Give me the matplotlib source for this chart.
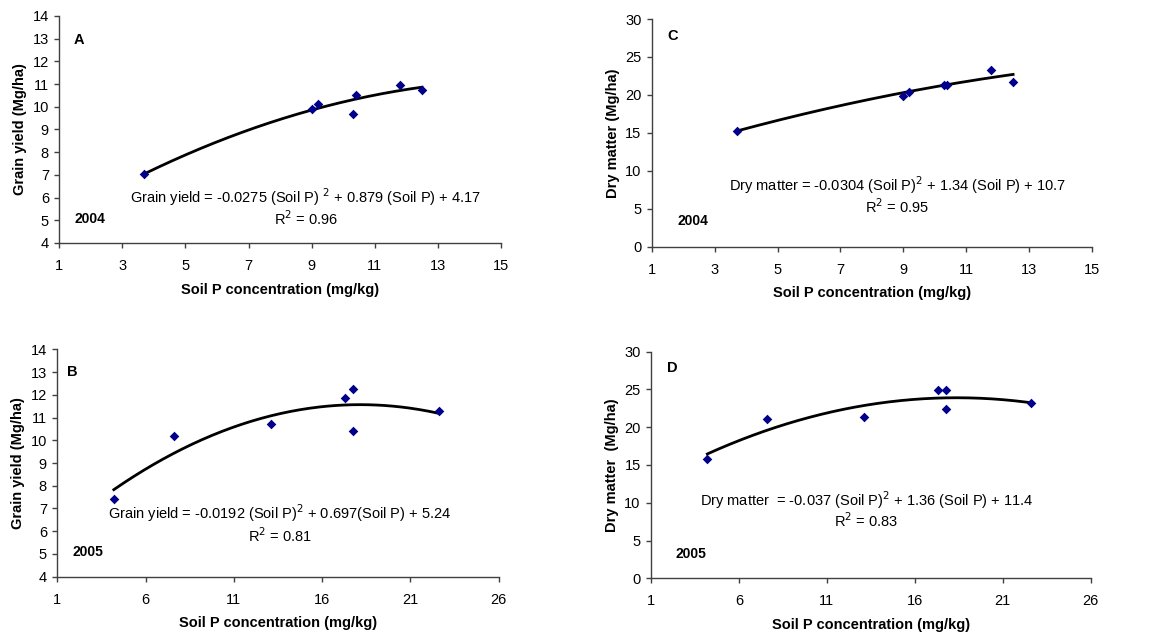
import numpy as np
import matplotlib
matplotlib.use("Agg")
import matplotlib.pyplot as plt

plt.rcParams['font.family'] = ['Liberation Sans', 'DejaVu Sans']

# ---- data ----
# Panel A: grain yield 2004
a_soilp = [3.7, 9.0, 9.2, 10.3, 10.4, 11.8, 12.5]
a_yield = [7.05, 9.9, 10.1, 9.7, 10.5, 10.95, 10.75]
a_coef = [-0.0275, 0.879, 4.17]

# Panel C: dry matter 2004
c_soilp = [3.7, 9.0, 9.2, 10.3, 10.4, 11.8, 12.5]
c_dm = [15.3, 19.8, 20.4, 21.3, 21.3, 23.3, 21.75]
c_coef = [-0.0304, 1.34, 10.7]

# Panel B: grain yield 2005
b_soilp = [4.2, 7.6, 13.1, 17.3, 17.75, 17.75, 22.6]
b_yield = [7.4, 10.2, 10.7, 11.85, 12.25, 10.4, 11.3]
b_coef = [-0.0192, 0.697, 5.24]

# Panel D: dry matter 2005
d_soilp = [4.2, 7.6, 13.1, 17.3, 17.75, 17.75, 22.6]
d_dm = [15.75, 21.15, 21.4, 24.9, 24.9, 22.35, 23.2]
d_coef = [-0.037, 1.36, 11.4]

x_ticks_2004 = [1, 3, 5, 7, 9, 11, 13, 15]
x_ticks_2005 = [1, 6, 11, 16, 21, 26]
y_ticks_grain = list(range(4, 15))
y_ticks_dm = [0, 5, 10, 15, 20, 25, 30]

panels = [
    dict(pos=[0.051, 0.618, 0.3797, 0.357], x=a_soilp, y=a_yield, coef=a_coef,
         xt=x_ticks_2004, yt=y_ticks_grain, ylabel='Grain yield (Mg/ha)', letter='A', year='2004',
         eq='Grain yield = -0.0275 (Soil P) $^{2}$ + 0.879 (Soil P) + 4.17', r2='R$^{2}$ = 0.96',
         letter_xy=(0.033, 0.893), year_xy=(0.035, 0.104), eq_xy=(0.558, 0.200), r2_xy=(0.558, 0.107)),
    dict(pos=[0.5606, 0.6121, 0.378, 0.358], x=c_soilp, y=c_dm, coef=c_coef,
         xt=x_ticks_2004, yt=y_ticks_dm, ylabel='Dry matter (Mg/ha)', letter='C', year='2004',
         eq='Dry matter = -0.0304 (Soil P)$^{2}$ + 1.34 (Soil P) + 10.7', r2='R$^{2}$ = 0.95',
         letter_xy=(0.036, 0.925), year_xy=(0.058, 0.113), eq_xy=(0.558, 0.271), r2_xy=(0.558, 0.176)),
    dict(pos=[0.0493, 0.0932, 0.3795, 0.3576], x=b_soilp, y=b_yield, coef=b_coef,
         xt=x_ticks_2005, yt=y_ticks_grain, ylabel='Grain yield (Mg/ha)', letter='B', year='2005',
         eq='Grain yield = -0.0192 (Soil P)$^{2}$ + 0.697(Soil P) + 5.24', r2='R$^{2}$ = 0.81',
         letter_xy=(0.023, 0.902), year_xy=(0.035, 0.110), eq_xy=(0.504, 0.279), r2_xy=(0.504, 0.179)),
    dict(pos=[0.5598, 0.0907, 0.378, 0.3564], x=d_soilp, y=d_dm, coef=d_coef,
         xt=x_ticks_2005, yt=y_ticks_dm, ylabel='Dry matter  (Mg/ha)', letter='D', year='2005',
         eq='Dry matter  = -0.037 (Soil P)$^{2}$ + 1.36 (Soil P) + 11.4', r2='R$^{2}$ = 0.83',
         letter_xy=(0.037, 0.926), year_xy=(0.056, 0.106), eq_xy=(0.490, 0.346), r2_xy=(0.490, 0.254)),
]

fig = plt.figure(figsize=(11.63, 6.36), dpi=100)
fig.patch.set_facecolor('white')

for p in panels:
    ax = fig.add_axes(p['pos'])
    xs = np.array(p['x'])
    xf = np.linspace(xs.min(), xs.max(), 200)
    yf = np.polyval(p['coef'], xf)
    ax.plot(xf, yf, color='black', lw=2.0, zorder=2)
    ax.scatter(p['x'], p['y'], marker='D', s=24, color='#00008B', zorder=3, linewidths=0)
    ax.set_xlim(p['xt'][0], p['xt'][-1])
    ax.set_ylim(p['yt'][0], p['yt'][-1])
    ax.set_xticks(p['xt'])
    ax.set_yticks(p['yt'])
    for s in ['top', 'right']:
        ax.spines[s].set_visible(False)
    for s in ['left', 'bottom']:
        ax.spines[s].set_color('#404040')
        ax.spines[s].set_linewidth(1.0)
    ax.tick_params(axis='both', direction='out', length=3.5, width=1.0, color='#404040',
                   labelsize=10.5, pad=4)
    ax.tick_params(axis='x', pad=8)
    ax.set_xlabel('Soil P concentration (mg/kg)', fontsize=10.5, fontweight='bold', labelpad=7)
    ax.set_ylabel(p['ylabel'], fontsize=10.5, fontweight='bold', labelpad=4)
    ax.text(*p['letter_xy'], p['letter'], transform=ax.transAxes, fontsize=10.5, fontweight='bold',
            ha='left', va='center')
    ax.text(*p['year_xy'], p['year'], transform=ax.transAxes, fontsize=10, fontweight='bold',
            ha='left', va='center')
    ax.text(*p['eq_xy'], p['eq'], transform=ax.transAxes, fontsize=10.5, ha='center', va='center')
    ax.text(*p['r2_xy'], p['r2'], transform=ax.transAxes, fontsize=10.5, ha='center', va='center')

fig.savefig('out.png', dpi=100, facecolor='white')
